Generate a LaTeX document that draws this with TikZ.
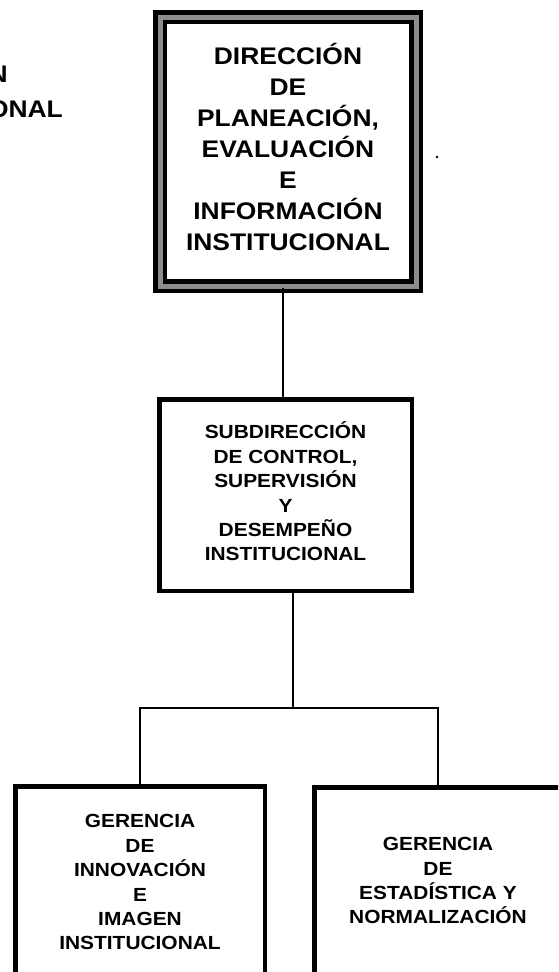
\documentclass[tikz,border=0pt]{standalone}
\usepackage{fontspec}
\setmainfont{Liberation Sans}[FakeStretch=1.1]
\begin{document}
\begin{tikzpicture}[x=1pt,y=-1pt,
  bigfont/.style={font=\bfseries\fontsize{24}{31}\selectfont},
  smallfont/.style={font=\bfseries\fontsize{19}{24.4}\selectfont},
  dirbox/.style={draw=black, line width=4.5pt, double=black!45, double distance=5pt,
    fill=white, inner sep=0pt, bigfont},
  unitbox/.style={draw=black, line width=4.5pt, fill=white, inner sep=0pt, smallfont},
  link/.style={draw=black, line width=1.6pt}]
\useasboundingbox (0,0) rectangle (558,972);
\clip (0,0) rectangle (558,972);
\fill[white] (0,0) rectangle (558,972);

% partial text at the left edge (cut off in the reference too)
\node[bigfont, anchor=base east, inner sep=0pt] (lefta) at (8,82) {N};
\node[bigfont, anchor=base east, inner sep=0pt] (leftb) at (63,117) {ONAL};

% speck
\fill (437,157) circle (1.3);

\node[dirbox, minimum width=256pt, minimum height=269pt] (dir) at (288,151.5)
  {\raisebox{4pt}{\begin{tabular}{@{}c@{}}DIRECCIÓN\\ DE\\ PLANEACIÓN,\\ EVALUACIÓN\\ E\\ INFORMACIÓN\\ INSTITUCIONAL\end{tabular}}};

\node[unitbox, minimum width=252.5pt, minimum height=191.5pt] (sub) at (285.5,495)
  {\raisebox{-5.5pt}{\begin{tabular}{@{}c@{}}SUBDIRECCIÓN\\ DE CONTROL,\\ SUPERVISIÓN\\ Y\\ DESEMPEÑO\\ INSTITUCIONAL\end{tabular}}};

\node[unitbox, minimum width=249.5pt, minimum height=195.5pt] (ger1) at (140,884)
  {\raisebox{-2pt}{\begin{tabular}{@{}c@{}}GERENCIA\\ DE\\ INNOVACIÓN\\ E\\ IMAGEN\\ INSTITUCIONAL\end{tabular}}};

\node[unitbox, minimum width=247.5pt, minimum height=190.5pt] (ger2) at (438,882.5)
  {\raisebox{-2pt}{\begin{tabular}{@{}c@{}}GERENCIA\\ DE\\ ESTADÍSTICA Y\\ NORMALIZACIÓN\end{tabular}}};

\coordinate (j) at (293,708);

\draw[link] ([xshift=-5pt]dir.south) -- ([xshift=-2.5pt]sub.north);
\draw[link] ([xshift=7.5pt]sub.south) -- (j);
\draw[link] (ger1.north) -- (ger1.north |- j) -- (ger2.north |- j) -- (ger2.north);
\end{tikzpicture}
\end{document}
